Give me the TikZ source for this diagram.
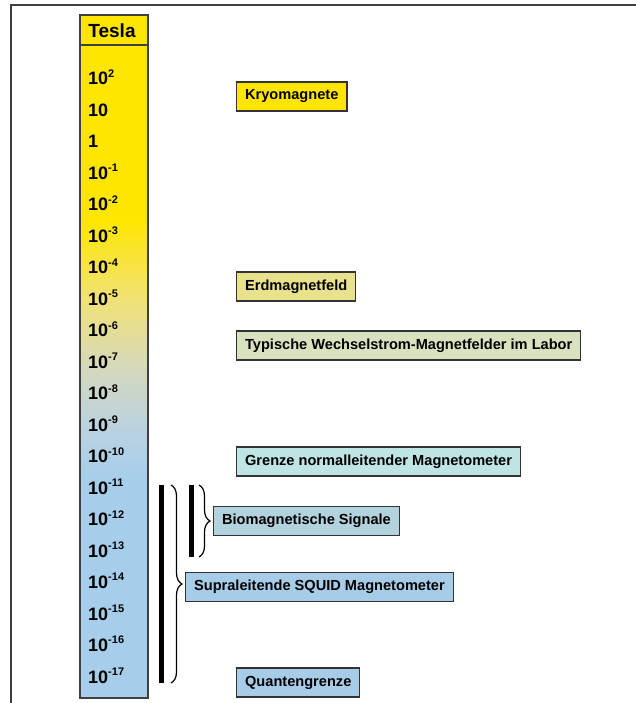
\documentclass[tikz,border=0pt]{standalone}
\usepackage{fontspec}
\setmainfont{Liberation Sans}
\usetikzlibrary{decorations.pathreplacing}

\definecolor{teslayellow}{RGB}{255,230,0}
\definecolor{teslapale}{RGB}{240,226,120}
\definecolor{teslagrey}{RGB}{212,216,190}
\definecolor{teslasky}{RGB}{186,210,224}
\definecolor{teslablue}{RGB}{166,206,234}
\definecolor{kryo}{RGB}{255,229,0}
\definecolor{erd}{RGB}{232,226,140}
\definecolor{labor}{RGB}{216,226,190}
\definecolor{grenze}{RGB}{190,228,228}
\definecolor{bio}{RGB}{178,210,222}
\definecolor{squid}{RGB}{166,204,232}

\newcommand{\tenexp}[1]{10\raisebox{0.42em}{\fontsize{11}{11}\selectfont #1}}

\begin{document}
\begin{tikzpicture}[x=1pt, y=-1pt, box/.style={draw=black!80, line width=1.2pt, anchor=west, font=\fontsize{14.6}{16}\selectfont\bfseries, inner xsep=8.5pt, minimum height=29pt}, v/.style={anchor=base west, font=\fontsize{18}{20}\selectfont\bfseries, inner sep=0}, brk/.style={decorate, decoration={brace, amplitude=11pt}, line width=1.2pt}]
	\useasboundingbox (0,0) rectangle (636,703);
	\draw[black!75, line width=2pt] (11,703) -- (11,5) -- (636,5);

	% scale bar
	\fill[teslayellow] (80,15) rectangle (148,220);
	\shade[top color=teslayellow, bottom color=teslapale] (80,220) rectangle (148,300);
	\shade[top color=teslapale, bottom color=teslagrey] (80,300) rectangle (148,370);
	\shade[top color=teslagrey, bottom color=teslasky] (80,370) rectangle (148,430);
	\shade[top color=teslasky, bottom color=teslablue] (80,430) rectangle (148,480);
	\fill[teslablue] (80,480) rectangle (148,698);
	\draw[black!75, line width=1.2pt] (80,15) rectangle (148,698);
	\draw[black!75, line width=1.2pt] (80,45) -- (148,45);
	\node[font=\fontsize{19}{20}\selectfont\bfseries] (tesla) at (112,31) {Tesla};

	\node[v] (v2) at (88,85) {\tenexp{2}};
	\node[v] (v1) at (88,116.5) {10};
	\node[v] (v0) at (88,147.9) {1};
	\node[v] (vm1) at (88,179.4) {\tenexp{-1}};
	\node[v] (vm2) at (88,210.9) {\tenexp{-2}};
	\node[v] (vm3) at (88,242.4) {\tenexp{-3}};
	\node[v] (vm4) at (88,273.8) {\tenexp{-4}};
	\node[v] (vm5) at (88,305.3) {\tenexp{-5}};
	\node[v] (vm6) at (88,336.8) {\tenexp{-6}};
	\node[v] (vm7) at (88,368.2) {\tenexp{-7}};
	\node[v] (vm8) at (88,399.7) {\tenexp{-8}};
	\node[v] (vm9) at (88,431.2) {\tenexp{-9}};
	\node[v] (vm10) at (88,462.6) {\tenexp{-10}};
	\node[v] (vm11) at (88,494.1) {\tenexp{-11}};
	\node[v] (vm12) at (88,525.6) {\tenexp{-12}};
	\node[v] (vm13) at (88,557.1) {\tenexp{-13}};
	\node[v] (vm14) at (88,588.5) {\tenexp{-14}};
	\node[v] (vm15) at (88,620) {\tenexp{-15}};
	\node[v] (vm16) at (88,651.5) {\tenexp{-16}};
	\node[v] (vm17) at (88,683) {\tenexp{-17}};

	% field ranges
	\node[box, fill=kryo] (kryo) at (236,96.5) {Kryomagnete};
	\node[box, fill=erd] (erd) at (236,286.5) {Erdmagnetfeld};
	\node[box, fill=labor] (labor) at (236,345.5) {Typische Wechselstrom-Magnetfelder im Labor};
	\node[box, fill=grenze] (grenze) at (236,461.5) {Grenze normalleitender Magnetometer};
	\node[box, fill=bio] (bio) at (213,521) {Biomagnetische Signale};
	\node[box, fill=squid] (squid) at (185,587) {Supraleitende SQUID Magnetometer};
	\node[box, fill=squid] (quant) at (236,682.5) {Quantengrenze};

	% ranges of the squid and of the signals
	\coordinate (sqtop) at (161,485);
	\coordinate (sqbot) at (161,683);
	\coordinate (biotop) at (191,485);
	\coordinate (biobot) at (191,557);
	\draw[line width=5pt] (sqtop) -- (sqbot);
	\draw[line width=5pt] (biotop) -- (biobot);
	\draw[brk] ([xshift=10pt]sqtop) -- ([xshift=10pt]sqbot);
	\draw[brk] ([xshift=8pt]biotop) -- ([xshift=8pt]biobot);
\end{tikzpicture}
\end{document}
